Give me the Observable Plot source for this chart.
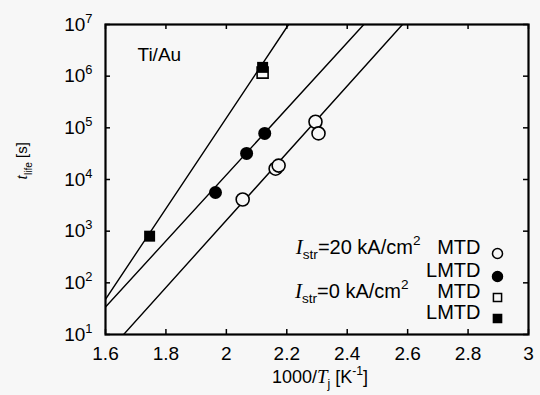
<!DOCTYPE html>
<html><head><meta charset="utf-8">
<script src="https://cdn.jsdelivr.net/npm/d3@7"></script>
<script src="https://cdn.jsdelivr.net/npm/@observablehq/plot@0.6"></script>
<style>
html,body{margin:0;padding:0;background:#f7f7f7;}
#chart{width:540px;height:395px;}
</style></head><body><div id="chart"></div>
<script>
// ---- data ----
const openCircleX = [2.054, 2.163, 2.173, 2.295, 2.305];   // Istr=20, MTD
const openCircleY = [4100, 16200, 18600, 131000, 78000];
const filledCircleX = [1.964, 2.067, 2.127];               // Istr=20, LMTD
const filledCircleY = [5600, 32000, 78000];
const openSquareX = [2.12];                                // Istr=0, MTD
const openSquareY = [1.17e6];
const filledSquareX = [1.746, 2.12];                       // Istr=0, LMTD
const filledSquareY = [800, 1.48e6];
const fitMTDX = [1.66, 2.583];
const fitMTDY = [10, 1e7];
const fitLMTDX = [1.6, 2.455];
const fitLMTDY = [34, 1e7];
const fitZeroX = [1.6, 2.206];
const fitZeroY = [48, 1e7];
const xTicks = [1.6, 1.8, 2, 2.2, 2.4, 2.6, 2.8, 3];
const yTicks = [1e1, 1e2, 1e3, 1e4, 1e5, 1e6, 1e7];
const legendRight = ["MTD", "LMTD", "MTD", "LMTD"];
const legendLeft = ["I_str=20 kA/cm^2", "I_str=0 kA/cm^2"];
const panelLabel = "Ti/Au";
const xLabel = "1000/T_j [K^-1]";
const yLabel = "t_life [s]";

// ---- build ----
const pts = (xs, ys) => xs.map((x, i) => ({x, y: ys[i]}));
const W = 540, H = 395, mL = 105, mR = 12, mT = 24, mB = 61;
const innerW = W - mL - mR, innerH = H - mT - mB;
const BG = "#f7f7f7";
const tickLen = 5;

const legendDy = [-81, -58, -37, -16];
const legendSyms = [
  {symbol: "circle", fill: BG, r: 5},
  {symbol: "circle", fill: "black", r: 5},
  {symbol: "square", fill: BG, r: 4.6},
  {symbol: "square", fill: "black", r: 4.6}
];

const marks = [
  Plot.axisX({ticks: xTicks, anchor: "bottom", tickSize: 0, tickPadding: 12, tickFormat: d => String(d), label: null, fontSize: 19}),
  Plot.axisY({ticks: yTicks, anchor: "left", tickSize: 0, tickPadding: 13, tickFormat: d => "10^" + Math.round(Math.log10(d)), label: null, fontSize: 19}),
  Plot.tickX(xTicks, {x: d => d, insetTop: innerH - tickLen, strokeWidth: 1.5}),
  Plot.tickX(xTicks, {x: d => d, insetBottom: innerH - tickLen, strokeWidth: 1.5}),
  Plot.tickY(yTicks, {y: d => d, insetRight: innerW - tickLen, strokeWidth: 1.5}),
  Plot.tickY(yTicks, {y: d => d, insetLeft: innerW - tickLen, strokeWidth: 1.5}),
  Plot.line(pts(fitZeroX, fitZeroY), {x: "x", y: "y", stroke: "black", strokeWidth: 1.4, clip: true}),
  Plot.line(pts(fitLMTDX, fitLMTDY), {x: "x", y: "y", stroke: "black", strokeWidth: 1.4, clip: true}),
  Plot.line(pts(fitMTDX, fitMTDY), {x: "x", y: "y", stroke: "black", strokeWidth: 1.4, clip: true}),
  Plot.dot(pts(openCircleX, openCircleY), {x: "x", y: "y", r: 6.5, stroke: "black", strokeWidth: 1.6, fill: BG}),
  Plot.dot(pts(filledCircleX, filledCircleY), {x: "x", y: "y", r: 6.5, fill: "black"}),
  Plot.dot(pts(openSquareX, openSquareY), {x: "x", y: "y", symbol: "square", r: 6.2, stroke: "black", strokeWidth: 1.6, fill: BG}),
  Plot.dot(pts(filledSquareX, filledSquareY), {x: "x", y: "y", symbol: "square", r: 6.2, fill: "black"}),
  Plot.frame({stroke: "black", strokeWidth: 2.2}),
  Plot.text([panelLabel], {text: d => d, frameAnchor: "top-left", dx: 32, dy: 23, textAnchor: "start", fontSize: 19}),
  Plot.text([xLabel], {text: d => d, frameAnchor: "bottom", dx: 3, dy: 48, fontSize: 18}),
  Plot.text([yLabel], {text: d => d, frameAnchor: "left", dx: -83, dy: 0, rotate: -90, fontSize: 15}),
  Plot.text([legendLeft[0]], {text: d => d, frameAnchor: "bottom-right", dx: -108, dy: legendDy[0], textAnchor: "end", fontSize: 20}),
  Plot.text([legendLeft[1]], {text: d => d, frameAnchor: "bottom-right", dx: -120, dy: legendDy[2], textAnchor: "end", fontSize: 20}),
  ...legendRight.map((t, i) => Plot.text([t], {text: d => d, frameAnchor: "bottom-right", dx: -48, dy: legendDy[i], textAnchor: "end", fontSize: 20})),
  ...legendSyms.map((s, i) => Plot.dot([0], {frameAnchor: "bottom-right", dx: -31, dy: legendDy[i], symbol: s.symbol, r: s.r, fill: s.fill, stroke: "black", strokeWidth: 1.5}))
];

const chart = Plot.plot({
  width: W, height: H,
  marginLeft: mL, marginRight: mR, marginTop: mT, marginBottom: mB,
  x: {domain: [1.6, 3]},
  y: {type: "log", domain: [10, 1e7]},
  style: {background: BG, fontFamily: "'Liberation Sans', Arial, sans-serif", fontSize: "18px", color: "black"},
  marks
});
document.getElementById("chart").appendChild(chart);

// ---- rich text (italics, sub/superscripts) ----
const SERIF = "'Liberation Serif', 'Times New Roman', serif";
function rich(el, segs) {
  const F = parseFloat(getComputedStyle(el).fontSize) || 18;
  const sel = d3.select(el);
  sel.text(null);
  let cur = 0;
  for (const [t, kind] of segs) {
    const ts = sel.append("tspan").text(t);
    let target = 0;
    if (kind === "sub") { target = 0.28 * F; ts.attr("font-size", 0.68 * F); }
    if (kind === "sup") { target = -0.42 * F; ts.attr("font-size", 0.68 * F); }
    if (kind === "it") { ts.attr("font-style", "italic").attr("font-family", SERIF).attr("font-size", 1.05 * F); }
    if (target !== cur) { ts.attr("dy", target - cur); cur = target; }
  }
}
const richMap = {
  "1000/T_j [K^-1]": [["1000/", ""], ["T", "it"], ["j", "sub"], [" [K", ""], ["-1", "sup"], ["]", ""]],
  "t_life [s]": [["t", "it"], ["life", "sub"], [" [s]", ""]],
  "I_str=20 kA/cm^2": [["I", "it"], ["str", "sub"], ["=20 kA/cm", ""], ["2", "sup"]],
  "I_str=0 kA/cm^2": [["I", "it"], ["str", "sub"], ["=0 kA/cm", ""], ["2", "sup"]]
};
chart.querySelectorAll("text").forEach(el => {
  const s = el.textContent;
  if (richMap[s]) rich(el, richMap[s]);
  else {
    const m = s.match(/^10\^(\d+)$/);
    if (m) rich(el, [["10", ""], [m[1], "sup"]]);
  }
});
</script>
</body></html>
